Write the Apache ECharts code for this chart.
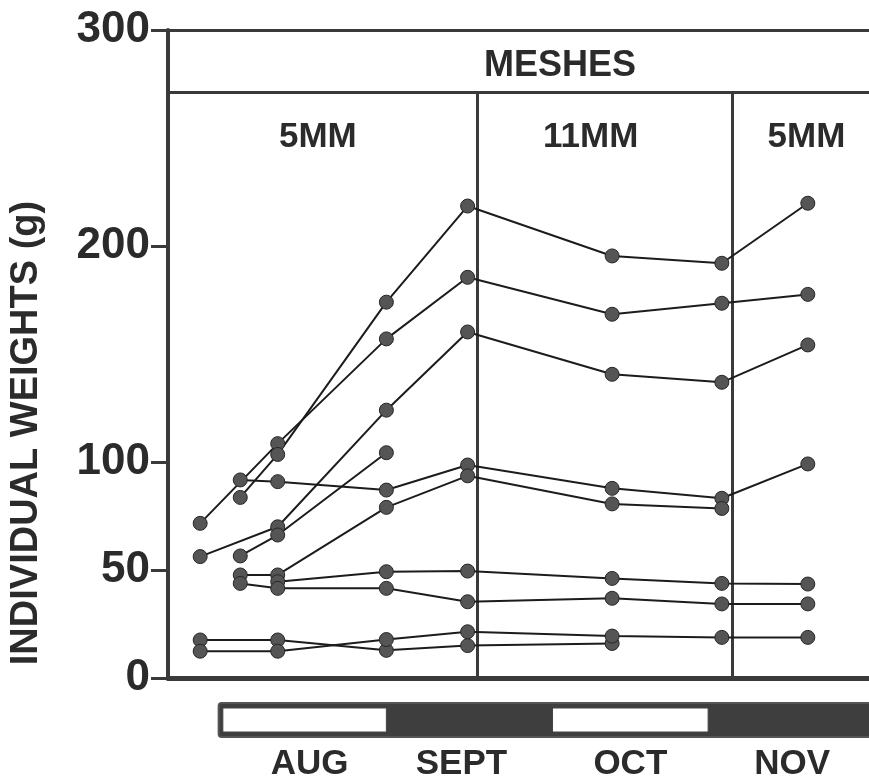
<!DOCTYPE html>
<html><head><meta charset="utf-8">
<script src="https://cdn.jsdelivr.net/npm/echarts@6/dist/echarts.min.js"></script>
<style>html,body{margin:0;padding:0;background:#fff}#c{width:869px;height:780px}</style>
</head><body><div id="c"></div>
<script>
// ---- data (days counted from 1 August) ----
const sampleDays = [-4.3, 3.3, 10.4, 31.0, 46.4, 73.8, 94.6, 110.9];
const fish1  = [71.6, null, 108.5, 157.0, 185.5, 168.4, 173.5, 177.6];
const fish2  = [null, 83.6, 103.5, 174.0, 218.5, 195.4, 192.0, 219.8];
const fish3  = [56.2, null, 70.0, 124.0, 160.2, 140.6, 136.9, 154.2];
const fish4  = [null, 56.5, 66.2, 104.3, null, null, null, null];
const fish5  = [null, 91.7, 90.9, 87.0, 98.6, 87.8, 83.2, 99.1];
const fish6  = [null, 47.7, 47.7, 79.0, 93.6, 80.6, 78.5, null];
const fish7  = [null, null, 44.6, 49.2, 49.5, 46.1, 43.8, 43.5];
const fish8  = [null, 43.8, 41.5, 41.5, 35.3, 36.9, 34.3, 34.3];
const fish9  = [17.6, null, 17.6, 12.8, 15.0, 16.0, null, null];
const fish10 = [12.4, null, 12.4, 17.8, 21.4, 19.4, 18.8, 18.8];
const allFish = [fish1, fish2, fish3, fish4, fish5, fish6, fish7, fish8, fish9, fish10];

const yTicks = [0, 50, 100, 200, 300];
const yTitle = 'INDIVIDUAL WEIGHTS (g)';
const headerTitle = 'MESHES';
const meshLabels = ['5MM', '11MM', '5MM'];
const meshStart = [-10.4, 48.3, 96.5];
const meshEnd = [48.3, 96.5, 122.5];
const months = ['AUG', 'SEPT', 'OCT', 'NOV'];
const monthStart = [0, 31, 62.5, 92];
const monthEnd = [31, 62.5, 92, 122];
const monthLight = [true, false, true, false];

// ---- layout ----
const X_MIN = -10.4, X_MAX = 122.5, Y_MAX = 300, HEADER_Y = 271.3;
const FONT = '"Liberation Sans", Arial, Helvetica, sans-serif';
const INK = '#2b2b2b';
const FRAME = '#3a3a3a';

const chart = echarts.init(document.getElementById('c'), null, {renderer: 'canvas'});

const fishSeries = allFish.map((vals, idx) => ({
  type: 'line',
  xAxisIndex: 0, yAxisIndex: 0,
  data: sampleDays.map((d, i) => [d, vals[i]]).filter(p => p[1] != null),
  symbol: 'circle', symbolSize: 14,
  itemStyle: {color: '#555', borderColor: '#262626', borderWidth: 1},
  lineStyle: {color: '#1c1c1c', width: 2},
  z: 5,
  silent: true,
  markLine: idx === 0 ? {
    silent: true, symbol: 'none', label: {show: false},
    lineStyle: {color: FRAME, width: 3, type: 'solid'},
    data: [
      {yAxis: Y_MAX},
      {yAxis: HEADER_Y},
      [{coord: [meshEnd[0], 0]}, {coord: [meshEnd[0], HEADER_Y]}],
      [{coord: [meshEnd[1], 0]}, {coord: [meshEnd[1], HEADER_Y]}]
    ]
  } : undefined
}));

const meshSeries = {
  type: 'custom', xAxisIndex: 0, yAxisIndex: 0, silent: true, z: 6,
  data: meshLabels.map((m, i) => [meshStart[i], meshEnd[i]]),
  renderItem(params, api) {
    const i = params.dataIndex;
    const mid = (api.value(0) + api.value(1)) / 2;
    const shift = [-5, -14, 6][i];
    const p = api.coord([mid, HEADER_Y]);
    const children = [{
      type: 'text', x: p[0] + shift, y: p[1] + 45,
      style: {text: meshLabels[i], font: 'bold 35px ' + FONT, fill: INK, align: 'center', verticalAlign: 'middle'}
    }];
    if (i === 0) {
      const h = api.coord([0, Y_MAX]);
      children.push({
        type: 'text', x: 560, y: h[1] + 36,
        style: {text: headerTitle, font: 'bold 36px ' + FONT, fill: INK, align: 'center', verticalAlign: 'middle'}
      });
    }
    return {type: 'group', children};
  }
};

const barFrameSeries = {
  type: 'custom', xAxisIndex: 1, yAxisIndex: 1, silent: true, z: 2,
  data: [[-0.8, X_MAX + 1]],
  renderItem(params, api) {
    const a = api.coord([api.value(0), 1]);
    const b = api.coord([api.value(1), 0]);
    return {type: 'rect', shape: {x: a[0], y: a[1], width: b[0] - a[0], height: b[1] - a[1], r: 3},
      style: {fill: '#3e3e3e', stroke: '#555', lineWidth: 2}};
  }
};

const monthSeries = {
  type: 'custom', xAxisIndex: 1, yAxisIndex: 1, silent: true, z: 3,
  data: months.map((m, i) => [monthStart[i], monthEnd[i]]),
  renderItem(params, api) {
    const i = params.dataIndex;
    const a = api.coord([api.value(0), 1]);
    const b = api.coord([api.value(1), 0]);
    const children = [];
    if (monthLight[i]) {
      children.push({type: 'rect', shape: {x: a[0], y: a[1] + 5, width: b[0] - a[0], height: b[1] - a[1] - 10},
        style: {fill: '#fff', stroke: '#444', lineWidth: 1}});
    }
    children.push({type: 'text', x: (a[0] + b[0]) / 2 + [5, -8, 0, 5][i], y: b[1] + 27,
      style: {text: months[i], font: 'bold 35px ' + FONT, fill: INK, align: 'center', verticalAlign: 'middle'}});
    return {type: 'group', children};
  }
};

chart.setOption({
  animation: false,
  backgroundColor: '#fff',
  grid: [
    {left: 168, top: 30, width: 701, height: 648, show: false},
    {left: 168, top: 703, width: 701, height: 34, show: false}
  ],
  xAxis: [
    {gridIndex: 0, type: 'value', min: X_MIN, max: X_MAX,
      axisLine: {show: true, onZero: false, lineStyle: {color: FRAME, width: 5}},
      axisTick: {show: false}, axisLabel: {show: false}, splitLine: {show: false}},
    {gridIndex: 1, type: 'value', min: X_MIN, max: X_MAX, show: false}
  ],
  yAxis: [
    {gridIndex: 0, type: 'value', min: 0, max: Y_MAX,
      axisLine: {show: true, onZero: false, lineStyle: {color: FRAME, width: 4}},
      axisTick: {show: true, length: 17, customValues: yTicks, lineStyle: {color: FRAME, width: 3}},
      axisLabel: {show: true, customValues: yTicks, margin: 18, color: INK, fontSize: 44, fontWeight: 'bold', fontFamily: FONT},
      splitLine: {show: false}},
    {gridIndex: 1, type: 'value', min: 0, max: 1, show: false}
  ],
  graphic: [{
    type: 'text', x: 27, y: 433, rotation: Math.PI / 2,
    style: {text: yTitle, font: 'bold 38px ' + FONT, fill: INK, align: 'center', verticalAlign: 'middle'}
  }],
  series: [...fishSeries, meshSeries, barFrameSeries, monthSeries]
});
</script></body></html>
